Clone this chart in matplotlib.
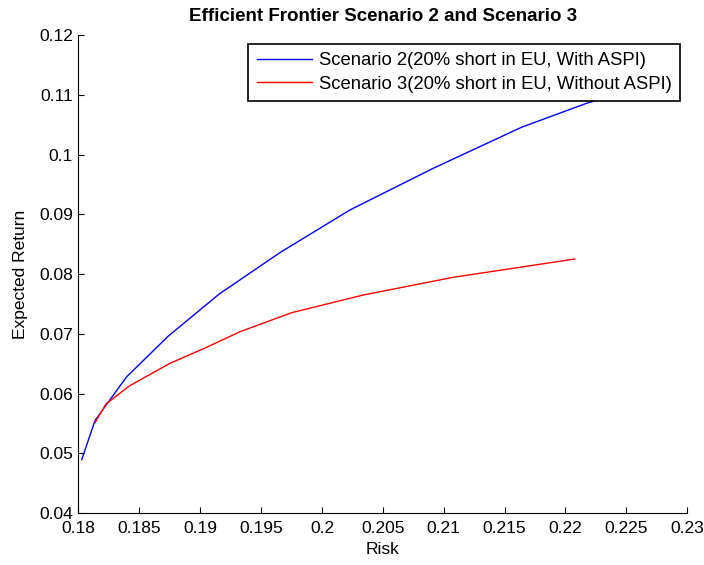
import numpy as np
import matplotlib
matplotlib.use("Agg")
from matplotlib import pyplot as plt
from matplotlib.ticker import FuncFormatter, MultipleLocator

# Frontier points (risk, expected return)
risk_s2 = [0.18026, 0.18135, 0.18237, 0.18396, 0.18737, 0.19156, 0.19654,
           0.20229, 0.20913, 0.21638, 0.22172, 0.2265]
ret_s2 = [0.0489, 0.05545, 0.05836, 0.0628, 0.0696, 0.07665, 0.08357,
          0.09071, 0.09768, 0.10455, 0.10856, 0.1115]

risk_s3 = [0.18135, 0.18226, 0.18417, 0.18751, 0.19052, 0.19326, 0.1975,
           0.20338, 0.21077, 0.21516, 0.22076]
ret_s3 = [0.05511, 0.05824, 0.06126, 0.06505, 0.06773, 0.07034, 0.07352,
          0.07648, 0.07945, 0.08079, 0.08251]

labels = ["Scenario 2(20% short in EU, With ASPI)",
          "Scenario 3(20% short in EU, Without ASPI)"]

plt.rcParams['font.family'] = ['Liberation Sans', 'DejaVu Sans']

fig = plt.figure(figsize=(7.04, 5.65), dpi=100)
ax = fig.add_axes([0.1115, 0.092, 0.8645, 0.846])

ax.plot(risk_s2, ret_s2, color='#0000ff', lw=1.0, label=labels[0])
ax.plot(risk_s3, ret_s3, color='#ff0000', lw=1.0, label=labels[1])

ax.set_xlim(0.18, 0.23)
ax.set_ylim(0.04, 0.12)
ax.xaxis.set_major_locator(MultipleLocator(0.005))
ax.yaxis.set_major_locator(MultipleLocator(0.01))
fmt = FuncFormatter(lambda v, p: '%g' % round(v, 4))
ax.xaxis.set_major_formatter(fmt)
ax.yaxis.set_major_formatter(fmt)

ax.spines['top'].set_visible(False)
ax.spines['right'].set_visible(False)
ax.tick_params(direction='in', length=4, labelsize=12.5, colors='black',
               width=0.8)
ax.tick_params(axis='x', pad=6)
ax.tick_params(axis='y', pad=4)

ax.set_xlabel("Risk", fontsize=12.5, labelpad=4)
ax.set_ylabel("Expected Return", fontsize=12.5, labelpad=8)
ax.set_title("Efficient Frontier Scenario 2 and Scenario 3", fontsize=13.5,
             fontweight='bold', pad=10)

leg = ax.legend(loc='upper right', bbox_to_anchor=(0.988, 0.981),
                fontsize=13.3, frameon=True, fancybox=False,
                edgecolor='black', framealpha=1, handlelength=3.0,
                borderpad=0.45, labelspacing=0.35, handletextpad=0.35,
                borderaxespad=0)
leg.get_frame().set_linewidth(1.2)

fig.savefig("out.png", dpi=100)
